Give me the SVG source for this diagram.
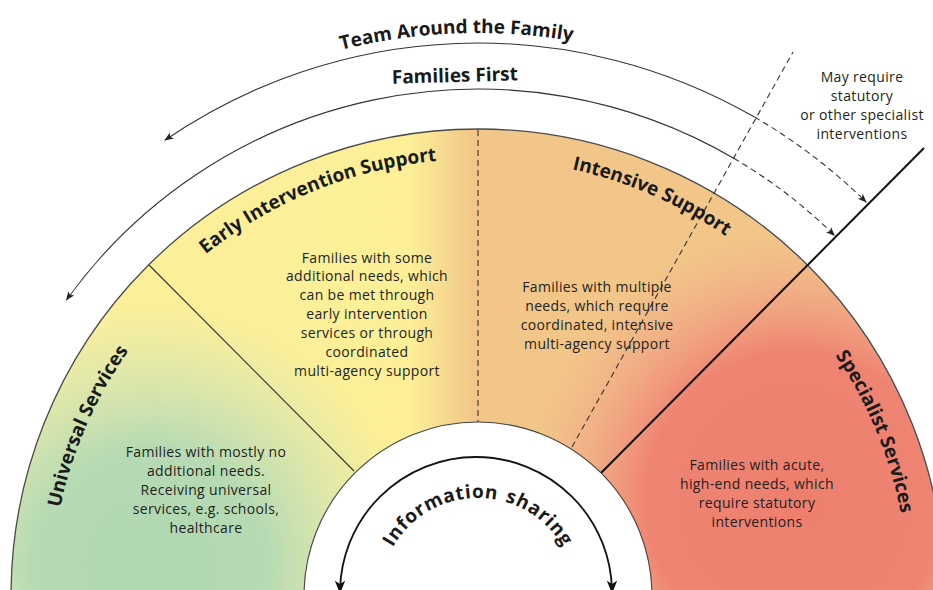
<svg xmlns="http://www.w3.org/2000/svg" width="933" height="590" viewBox="0 0 933 590">
<style>
.body{font-family:"Open Sans","Liberation Sans",sans-serif;font-size:14px;letter-spacing:0.35px;fill:#231f20;text-anchor:middle}
.title{font-family:"Open Sans","Liberation Sans",sans-serif;font-size:19px;font-weight:bold;fill:#1a1a1a;text-anchor:middle}
.arc{fill:none;stroke:#333;stroke-width:1.1}
.dash{fill:none;stroke:#333;stroke-width:1.1;stroke-dasharray:6 4}
</style>
<defs>
<clipPath id="disk"><circle cx="478" cy="596" r="467"/></clipPath>
<linearGradient id="gYellow" gradientUnits="userSpaceOnUse" x1="0" y1="0" x2="933" y2="0">
<stop offset="0" stop-color="#fbef9c" stop-opacity="1"/>
<stop offset="0.44" stop-color="#fcef98" stop-opacity="1"/>
<stop offset="0.51" stop-color="#fcef98" stop-opacity="0"/>
</linearGradient>
<radialGradient id="gGreen" gradientUnits="userSpaceOnUse" cx="150" cy="565" r="260">
<stop offset="0" stop-color="#aed7b2" stop-opacity="1"/>
<stop offset="0.45" stop-color="#b3d9b5" stop-opacity="0.95"/>
<stop offset="1" stop-color="#c8e3c0" stop-opacity="0"/>
</radialGradient>
<radialGradient id="gRed" gradientUnits="userSpaceOnUse" cx="795" cy="500" r="270">
<stop offset="0" stop-color="#ee7f6f" stop-opacity="1"/>
<stop offset="0.55" stop-color="#ef8472" stop-opacity="1"/>
<stop offset="1" stop-color="#f3a890" stop-opacity="0"/>
</radialGradient>
<marker id="ah" viewBox="0 0 10 10" refX="9.5" refY="5" markerWidth="9" markerHeight="9" markerUnits="userSpaceOnUse" orient="auto-start-reverse">
<path d="M0,1 L10,5 L0,9 L2.5,5 z" fill="#222"/>
</marker>
<marker id="ahBig" viewBox="0 0 10 10" refX="9.5" refY="5" markerWidth="13" markerHeight="13" markerUnits="userSpaceOnUse" orient="auto-start-reverse">
<path d="M0,1 L10,5 L0,9 L2.5,5 z" fill="#111"/>
</marker>
<path id="pTeam" d="M196.5,108.4 A563,563 0 0 1 721.2,88.3"/>
<path id="pEarly" d="M143.2,315.1 A437,437 0 0 1 523.7,161.4"/>
<path id="pIntensive" d="M478,159 A437,437 0 0 1 797.6,298"/>
<path id="pUniversal" d="M51,596 A427,427 0 0 1 186.8,283.7"/>
<path id="pSpecialist" d="M777.3,286 A431,431 0 0 1 908.9,603.5"/>
<path id="pInfo" d="M393.1,547 A98,98 0 0 1 562.9,547"/>
</defs>

<!-- coloured half-disc -->
<g id="bands">
<g clip-path="url(#disk)">
<rect x="0" y="100" width="933" height="500" fill="#f1c688"/>
<rect x="0" y="100" width="933" height="500" fill="url(#gYellow)"/>
<rect x="0" y="100" width="933" height="500" fill="url(#gGreen)"/>
<rect x="0" y="100" width="933" height="500" fill="url(#gRed)"/>
</g>
<circle cx="478" cy="596" r="467" fill="none" stroke="#4a4a4a" stroke-width="1.3"/>
</g>

<!-- connectors and dividers -->
<g id="connectors">
<line x1="478" y1="130" x2="478" y2="422" class="dash"/>
<line x1="572" y1="447" x2="793" y2="52" class="dash"/>
<line x1="354" y1="471" x2="149" y2="265" stroke="#333" stroke-width="1.1"/>
<line x1="601" y1="473" x2="924" y2="148" stroke="#111" stroke-width="2"/>
<path class="arc" d="M754.5,117.1 A553,553 0 0 0 164.8,140.3" marker-end="url(#ah)"/>
<path class="dash" d="M754.5,117.1 A553,553 0 0 1 866.3,202.3" marker-end="url(#ah)"/>
<path class="arc" d="M733.8,158.3 A507,507 0 0 0 66.3,300.2" marker-end="url(#ah)"/>
<path class="dash" d="M733.8,158.3 A507,507 0 0 1 834.6,235.6" marker-end="url(#ah)"/>
</g>

<!-- centre: information sharing -->
<g id="info-sharing">
<circle cx="478" cy="596" r="174" fill="#ffffff" stroke="#444" stroke-width="1.1"/>
<path d="M340,593 A136,136 0 0 1 612,593" fill="none" stroke="#111" stroke-width="1.8" marker-start="url(#ahBig)" marker-end="url(#ahBig)"/>
<text class="title" letter-spacing="0.7" word-spacing="2"><textPath href="#pInfo" startOffset="50%">Information sharing</textPath></text>
</g>

<g id="team-around-family">
<text class="title"><textPath href="#pTeam" startOffset="50%">Team Around the Family</textPath></text>
</g>
<g id="families-first">
<text class="title" x="455" y="82" transform="rotate(-1.5 455 82)">Families First</text>
</g>

<g id="statutory-note">
<text class="body"><tspan x="862" y="82">May require</tspan><tspan x="862" y="101">statutory</tspan><tspan x="862" y="120">or other specialist</tspan><tspan x="862" y="139">interventions</tspan></text>
</g>

<g id="universal">
<text class="title"><textPath href="#pUniversal" startOffset="50%">Universal Services</textPath></text>
<text class="body"><tspan x="206" y="457">Families with mostly no</tspan><tspan x="206" y="476">additional needs.</tspan><tspan x="206" y="495">Receiving universal</tspan><tspan x="206" y="514">services, e.g. schools,</tspan><tspan x="206" y="533">healthcare</tspan></text>
</g>

<g id="early-intervention">
<text class="title"><textPath href="#pEarly" startOffset="50%">Early Intervention Support</textPath></text>
<text class="body"><tspan x="367" y="263">Families with some</tspan><tspan x="367" y="281">additional needs, which</tspan><tspan x="367" y="300">can be met through</tspan><tspan x="367" y="319">early intervention</tspan><tspan x="367" y="338">services or through</tspan><tspan x="367" y="357">coordinated</tspan><tspan x="367" y="376">multi-agency support</tspan></text>
</g>

<g id="intensive">
<text class="title"><textPath href="#pIntensive" startOffset="50%">Intensive Support</textPath></text>
<text class="body"><tspan x="597" y="292">Families with multiple</tspan><tspan x="597" y="311">needs, which require</tspan><tspan x="597" y="330">coordinated, intensive</tspan><tspan x="597" y="349">multi-agency support</tspan></text>
</g>

<g id="specialist">
<text class="title"><textPath href="#pSpecialist" startOffset="50%">Specialist Services</textPath></text>
<text class="body"><tspan x="757" y="470">Families with acute,</tspan><tspan x="757" y="489">high-end needs, which</tspan><tspan x="757" y="508">require statutory</tspan><tspan x="757" y="527">interventions</tspan></text>
</g>
</svg>
